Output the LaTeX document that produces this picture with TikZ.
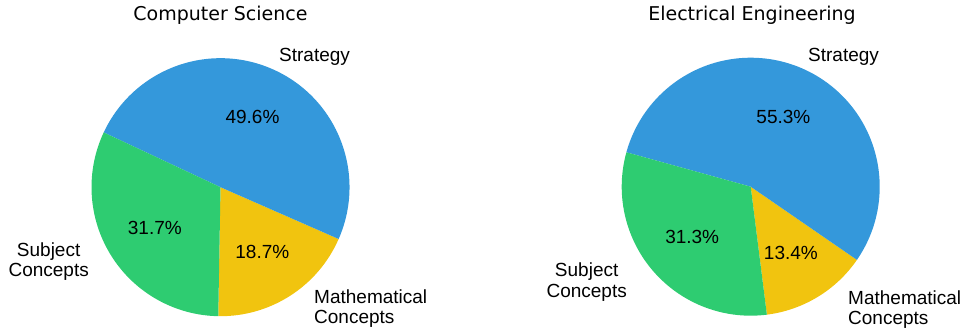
\documentclass[tikz,border=0pt]{standalone}
\usepackage{fontspec}
\setmainfont{Liberation Sans}
\newfontfamily\titlefont{DejaVu Sans}
\definecolor{stratblue}{HTML}{3498DB}
\definecolor{subjgreen}{HTML}{2ECC71}
\definecolor{mathyellow}{HTML}{F1C40F}

\begin{document}
\begin{tikzpicture}[x=1pt, y=1pt,
  pct/.style={font=\fontsize{19}{21}\selectfont, inner sep=0pt},
  lbl/.style={font=\fontsize{19}{20.5}\selectfont, inner sep=0pt},
  ttl/.style={font=\titlefont\fontsize{19}{21}\selectfont, inner sep=0pt, anchor=base}]
          \useasboundingbox (0,0) rectangle (964,331);
          \coordinate (cs) at (220.5,143.8);
          \coordinate (ee) at (750.7,144.3);

          % Computer Science
          \fill[mathyellow] (cs) -- ++(269:129pt) arc[start angle=269, end angle=336.32, radius=129pt] -- cycle;
          \fill[stratblue]  (cs) -- ++(336.32:129pt) arc[start angle=336.32, end angle=514.88, radius=129pt] -- cycle;
          \fill[subjgreen]  (cs) -- ++(154.88:129pt) arc[start angle=154.88, end angle=269, radius=129pt] -- cycle;
          \node[ttl] (cst) at (220.5,310.3) {Computer Science};
          \node[pct] (cs1) at ([shift={(65.6:77.4pt)}]cs)  {49.6\%};
          \node[pct] (cs2) at ([shift={(212:77.4pt)}]cs)   {31.7\%};
          \node[pct] (cs3) at ([shift={(302.7:77.4pt)}]cs) {18.7\%};
          \node[lbl, anchor=base west] (cs4) at (279,269.3) {Strategy};
          \node[lbl, anchor=east, align=center] (cs5) at (89,69.6) {Subject\\Concepts};
          \node[lbl, anchor=west, align=left] (cs6) at (314,22.2) {Mathematical\\Concepts};

          % Electrical Engineering
          \fill[mathyellow] (ee) -- ++(277.2:129pt) arc[start angle=277.2, end angle=325.44, radius=129pt] -- cycle;
          \fill[stratblue]  (ee) -- ++(325.44:129pt) arc[start angle=325.44, end angle=524.52, radius=129pt] -- cycle;
          \fill[subjgreen]  (ee) -- ++(164.52:129pt) arc[start angle=164.52, end angle=277.2, radius=129pt] -- cycle;
          \node[ttl] (eet) at (752,310.3) {Electrical Engineering};
          \node[pct] (ee1) at ([shift={(65:77.4pt)}]ee)    {55.3\%};
          \node[pct] (ee2) at ([shift={(220.9:77.4pt)}]ee) {31.3\%};
          \node[pct] (ee3) at ([shift={(301.3:77.4pt)}]ee) {13.4\%};
          \node[lbl, anchor=base west] (ee4) at (808,269.3) {Strategy};
          \node[lbl, anchor=east, align=center] (ee5) at (627,49) {Subject\\Concepts};
          \node[lbl, anchor=west, align=left] (ee6) at (848,21.5) {Mathematical\\Concepts};
\end{tikzpicture}
\end{document}
